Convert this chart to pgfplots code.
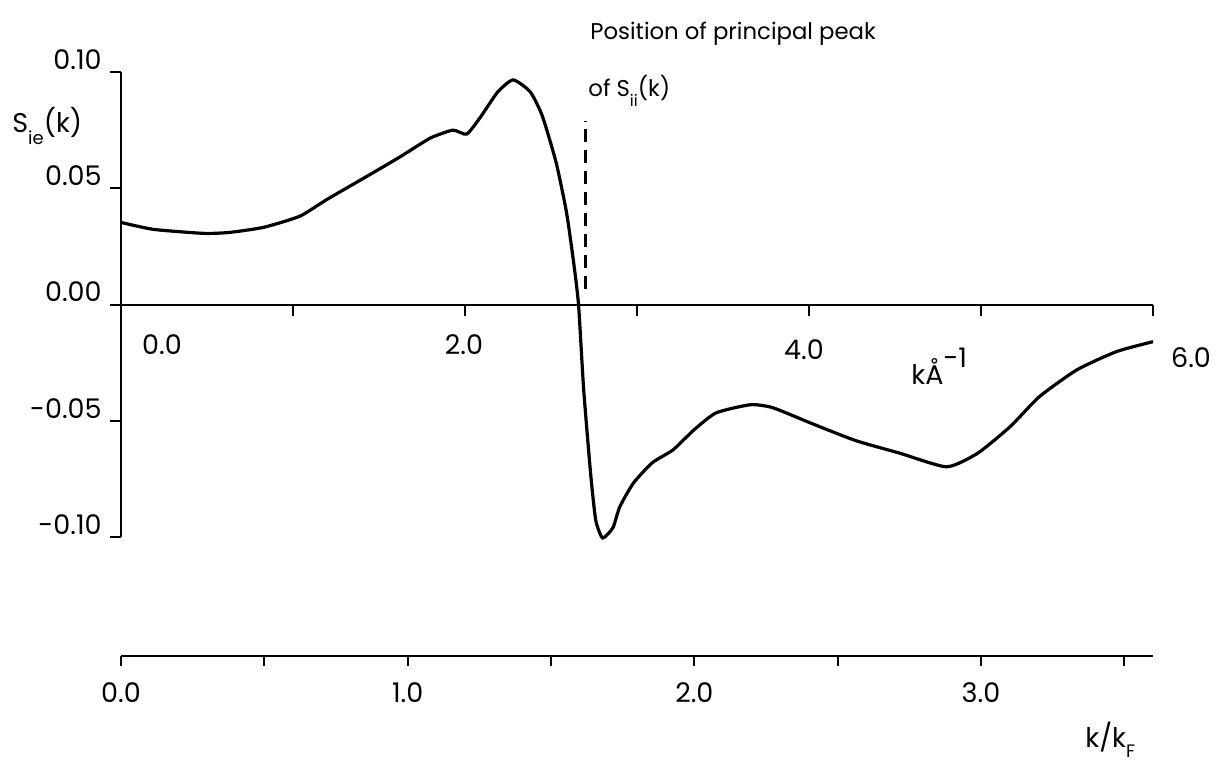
\documentclass[border=0pt]{standalone}
\usepackage{fontspec}
\setmainfont{Poppins}
\usepackage{pgfplots}
\pgfplotsset{compat=1.18}
\newcommand{\numfont}{\fontsize{13.5}{16}\selectfont}
\newcommand{\txtfont}{\fontsize{11.4}{13}\selectfont}
\begin{document}
\begin{tikzpicture}
% S_ie(k) against k in inverse angstroms
\begin{axis}[
  scale only axis, width=516pt, height=232.5pt,
  at={(0pt,0pt)}, anchor=south west,
  xmin=0, xmax=6, ymin=-0.10, ymax=0.10,
  axis x line=none, axis y line=left,
  axis line style={-, line width=1pt},
  ytick={-0.10,-0.05,0,0.05,0.10},
  yticklabels={-0.10,-0.05,0.00,0.05,0.10},
  ytick align=outside,
  major tick length=5.5pt,
  tick style={line width=1pt, black},
  yticklabel style={anchor=south east, font=\numfont, inner sep=1pt, xshift=-3pt},
  clip=false,
]
\addplot[line width=1.6pt, smooth, tension=0.35] coordinates {
(0.00,0.0353) (0.19,0.0323) (0.48,0.0306) (0.63,0.0310) (0.83,0.0332)
(1.04,0.0380) (1.20,0.0453) (1.45,0.0560) (1.62,0.0634) (1.74,0.0690)
(1.81,0.0720) (1.93,0.0750) (2.01,0.0733) (2.09,0.0806) (2.19,0.0914)
(2.28,0.0966) (2.38,0.0914) (2.45,0.0810) (2.53,0.0610) (2.59,0.0397)
(2.63,0.0190) (2.66,0.0000) (2.69,-0.0366) (2.73,-0.0724) (2.76,-0.0927)
(2.80,-0.1004) (2.86,-0.0960) (2.90,-0.0870) (2.98,-0.0767) (3.09,-0.0680)
(3.21,-0.0625) (3.33,-0.0540) (3.46,-0.0466) (3.66,-0.0431) (3.79,-0.0444)
(4.01,-0.0510) (4.27,-0.0585) (4.53,-0.0640) (4.80,-0.0698) (4.98,-0.0640)
(5.17,-0.0525) (5.34,-0.0396) (5.56,-0.0280) (5.79,-0.0202) (6.00,-0.0160)
};
% position of the principal peak of S_ii(k)
\addplot[line width=1.2pt, dash pattern=on 6.5pt off 4pt] coordinates {(2.70,0.0065) (2.70,0.079)};
\end{axis}
% k axis (inverse angstroms) along S_ie = 0
\begin{axis}[
  scale only axis, width=516pt, height=5pt,
  at={(0pt,116pt)}, anchor=south west,
  xmin=0, xmax=6, ymin=0, ymax=1,
  axis x line=bottom, axis y line=none,
  axis line style={-, line width=1pt},
  xtick={0,1,...,6},
  xticklabels={,,,,,,},
  xtick align=outside, major tick length=5.5pt,
  tick style={line width=1pt, black},
]
\addplot[draw=none] coordinates {(0,0) (6,1)};
\end{axis}
% the same k in units of k_F
\begin{axis}[
  scale only axis, width=516pt, height=5pt,
  at={(0pt,-59.5pt)}, anchor=south west,
  xmin=0, xmax=3.6, ymin=0, ymax=1,
  axis x line=bottom, axis y line=none,
  axis line style={-, line width=1pt},
  xtick={0,0.5,...,3.5},
  xticklabels={0.0,,1.0,,2.0,,3.0,},
  xtick align=outside, major tick length=5pt,
  tick style={line width=1pt, black},
  xticklabel style={font=\numfont, yshift=-5pt},
]
\addplot[draw=none] coordinates {(0,0) (3.6,1)};
\end{axis}
% labels
\node[anchor=base west, inner sep=0pt, font=\txtfont] at (234.5pt,248.5pt) {Position of principal peak};
\node[anchor=base west, inner sep=0pt, font=\txtfont] at (233.5pt,220pt) {of S\raisebox{-0.75ex}{\footnotesize ii}(k)};
\node[anchor=base west, inner sep=0pt, font=\numfont] at (-54.5pt,202pt) {S\raisebox{-0.75ex}{\small ie}(k)};
\node[font=\numfont] at (20.5pt,96pt) {0.0};
\node[font=\numfont] at (171.5pt,96pt) {2.0};
\node[font=\numfont] at (341.5pt,93.5pt) {4.0};
\node[font=\numfont] at (535pt,89.5pt) {6.0};
\node[anchor=base west, inner sep=0pt, font=\numfont] at (395pt,76.5pt) {kÅ\raisebox{1.1ex}{-1}};
\node[anchor=base west, inner sep=0pt, font=\numfont] at (482pt,-105pt) {k/k\raisebox{-0.7ex}{\small F}};
\pgfresetboundingbox
\path[use as bounding box] (-60.5pt,-112pt) rectangle (549pt,268.5pt);
\end{tikzpicture}
\end{document}
